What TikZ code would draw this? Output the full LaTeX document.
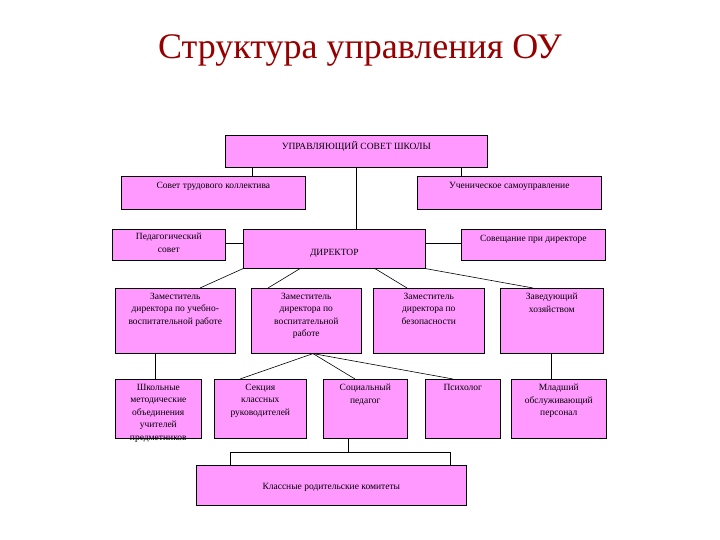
\documentclass[tikz,border=0pt]{standalone}
\usepackage{fontspec}
\setmainfont{Liberation Serif}
\begin{document}
\begin{tikzpicture}[x=1pt,y=-1pt,
  box/.style={draw=black, fill=boxpink, line width=0.6pt, anchor=north west, inner sep=0pt},
  lbl/.style={anchor=north, align=center, font=\fontsize{9.5}{12.5}\selectfont, inner sep=0pt},
  ln/.style={draw=black, line width=0.6pt}]
\definecolor{boxpink}{RGB}{255,153,255}
\definecolor{titlered}{RGB}{150,0,0}
\useasboundingbox (0,0) rectangle (720,540);
\node[font=\fontsize{36}{42}\selectfont, text=titlered] (title) at (360,50) {Структура управления ОУ};
\node[box, minimum width=262, minimum height=32] (top) at (225,135) {};
\node[box, minimum width=184, minimum height=33] (stk) at (121,176) {};
\node[box, minimum width=184, minimum height=33] (uch) at (417,176) {};
\node[box, minimum width=113, minimum height=31] (ped) at (112,229) {};
\node[box, minimum width=182, minimum height=39] (dir) at (243,229) {};
\node[box, minimum width=144, minimum height=31] (sov) at (461,229) {};
\node[box, minimum width=120, minimum height=65] (z1) at (115,288) {};
\node[box, minimum width=110, minimum height=65] (z2) at (251,288) {};
\node[box, minimum width=111, minimum height=65] (z3) at (373,288) {};
\node[box, minimum width=103, minimum height=65] (zav) at (500,288) {};
\node[box, minimum width=86, minimum height=59] (shk) at (115,379) {};
\node[box, minimum width=92, minimum height=59] (sek) at (214,379) {};
\node[box, minimum width=84, minimum height=59] (soc) at (323,379) {};
\node[box, minimum width=75, minimum height=59] (psi) at (425,379) {};
\node[box, minimum width=95, minimum height=59] (mla) at (511,379) {};
\node[box, minimum width=270, minimum height=40] (kom) at (196,465) {};
\node[lbl] (ltop) at ([yshift=-6]top.north) {УПРАВЛЯЮЩИЙ СОВЕТ ШКОЛЫ};
\node[lbl] (lstk) at ([yshift=-6]stk.north) {Совет трудового коллектива};
\node[lbl] (luch) at ([yshift=-6]uch.north) {Ученическое самоуправление};
\node[lbl] (lped) at ([yshift=-4]ped.north) {Педагогический\\совет};
\node[lbl] (ldir) at ([yshift=-20]dir.north) {ДИРЕКТОР};
\node[lbl] (lsov) at ([yshift=-6]sov.north) {Совещание при директоре};
\node[lbl] (lz1) at ([yshift=-5]z1.north) {Заместитель\\директора по учебно-\\воспитательной работе};
\node[lbl] (lz2) at ([yshift=-5]z2.north) {Заместитель\\директора по\\воспитательной\\работе};
\node[lbl] (lz3) at ([yshift=-5]z3.north) {Заместитель\\директора по\\безопасности};
\node[lbl] (lzav) at ([yshift=-5]zav.north) {Заведующий\\хозяйством};
\node[lbl] (lshk) at ([yshift=-5]shk.north) {Школьные\\методические\\объединения\\учителей\\предметников};
\node[lbl] (lsek) at ([yshift=-5]sek.north) {Секция\\классных\\руководителей};
\node[lbl] (lsoc) at ([yshift=-5]soc.north) {Социальный\\педагог};
\node[lbl] (lpsi) at ([yshift=-5]psi.north) {Психолог};
\node[lbl] (lmla) at ([yshift=-5]mla.north) {Младший\\обслуживающий\\персонал};
\node[lbl] (lkom) at ([yshift=-18]kom.north) {Классные родительские комитеты};
\draw[ln] (top.south -| 252,0) -- (stk.north -| 252,0);
\draw[ln] (top.south -| 461,0) -- (uch.north -| 461,0);
\draw[ln] (top.south) -- (dir.north -| top.south);
\draw[ln] (ped.east |- 0,243) -- (dir.west |- 0,243);
\draw[ln] (dir.east |- 0,243) -- (sov.west |- 0,243);
\draw[ln] (dir.south west) -- (z1.north -| 200,0);
\draw[ln] (dir.south -| 300,0) -- (z2.north -| 268,0);
\draw[ln] (dir.south -| 375,0) -- (z3.north -| 407,0);
\draw[ln] (dir.south east) -- (zav.north -| 533,0);
\draw[ln] (z1.south -| 155,0) -- (shk.north -| 155,0);
\draw[ln] (zav.south -| 551,0) -- (mla.north -| 551,0);
\draw[ln] (z2.south -| 313,0) -- (sek.north -| 240,0);
\draw[ln] (z2.south -| 313,0) -- (soc.north -| 355,0);
\draw[ln] (z2.south -| 313,0) -- (psi.north -| 453,0);
\coordinate (bl) at (230,452);
\coordinate (br) at (450,452);
\draw[ln] (soc.south -| 348,0) -- (348,452);
\draw[ln] (kom.north -| bl) -- (bl) -- (br) -- (kom.north -| br);
\end{tikzpicture}
\end{document}
